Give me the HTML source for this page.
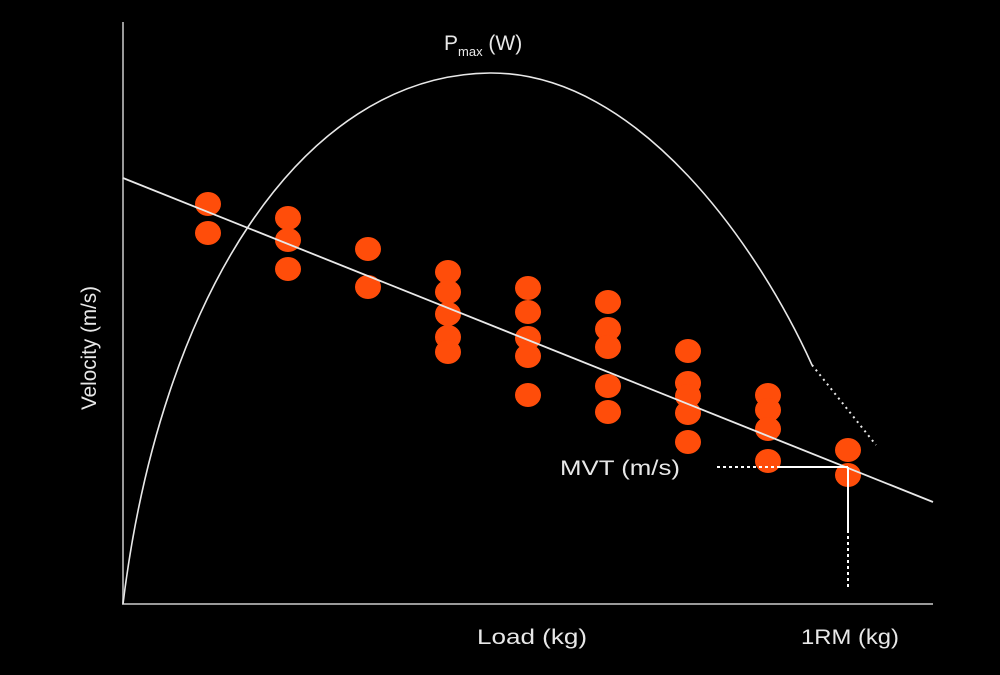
<!DOCTYPE html>
<html><head><style>html,body{margin:0;padding:0;background:#000;}svg{display:block}</style></head>
<body>
<svg width="1000" height="675" viewBox="0 0 1000 675" xmlns="http://www.w3.org/2000/svg">
<rect width="1000" height="675" fill="#000"/>
<line x1="123" y1="22" x2="123" y2="605" stroke="#9a9a9a" stroke-width="2"/>
<line x1="122" y1="604" x2="933" y2="604" stroke="#9a9a9a" stroke-width="2"/>
<g fill="#ff4d0a">
<ellipse cx="208" cy="204" rx="13" ry="12"/><ellipse cx="208" cy="233" rx="13" ry="12"/>
<ellipse cx="288" cy="218" rx="13" ry="12"/><ellipse cx="288" cy="240" rx="13" ry="12"/><ellipse cx="288" cy="269" rx="13" ry="12"/>
<ellipse cx="368" cy="249" rx="13" ry="12"/><ellipse cx="368" cy="287" rx="13" ry="12"/>
<ellipse cx="448" cy="272" rx="13" ry="12"/><ellipse cx="448" cy="292" rx="13" ry="12"/><ellipse cx="448" cy="314" rx="13" ry="12"/><ellipse cx="448" cy="337" rx="13" ry="12"/><ellipse cx="448" cy="352" rx="13" ry="12"/>
<ellipse cx="528" cy="288" rx="13" ry="12"/><ellipse cx="528" cy="312" rx="13" ry="12"/><ellipse cx="528" cy="338" rx="13" ry="12"/><ellipse cx="528" cy="356" rx="13" ry="12"/><ellipse cx="528" cy="395" rx="13" ry="12"/>
<ellipse cx="608" cy="302" rx="13" ry="12"/><ellipse cx="608" cy="329" rx="13" ry="12"/><ellipse cx="608" cy="347" rx="13" ry="12"/><ellipse cx="608" cy="386" rx="13" ry="12"/><ellipse cx="608" cy="412" rx="13" ry="12"/>
<ellipse cx="688" cy="351" rx="13" ry="12"/><ellipse cx="688" cy="383" rx="13" ry="12"/><ellipse cx="688" cy="396" rx="13" ry="12"/><ellipse cx="688" cy="413" rx="13" ry="12"/><ellipse cx="688" cy="442" rx="13" ry="12"/>
<ellipse cx="768" cy="395" rx="13" ry="12"/><ellipse cx="768" cy="410" rx="13" ry="12"/><ellipse cx="768" cy="429" rx="13" ry="12"/><ellipse cx="768" cy="461" rx="13" ry="12"/>
<ellipse cx="848" cy="450" rx="13" ry="12"/><ellipse cx="848" cy="475" rx="13" ry="12"/>
</g>
<path d="M123,604 C 160,300 300,75 490,73 C 640,72 760,250 812,365" fill="none" stroke="#e8e8e8" stroke-width="1.6"/>
<line x1="812" y1="365" x2="876" y2="445" stroke="#e8e8e8" stroke-width="2" stroke-dasharray="2,4"/>
<line x1="123" y1="178" x2="933" y2="502" stroke="#e8e8e8" stroke-width="1.8"/>
<line x1="717" y1="467" x2="780" y2="467" stroke="#fff" stroke-width="2" stroke-dasharray="3,3"/>
<line x1="780" y1="467" x2="848" y2="467" stroke="#fff" stroke-width="2"/>
<line x1="848" y1="467" x2="848" y2="530" stroke="#fff" stroke-width="2"/>
<line x1="848" y1="530" x2="848" y2="588" stroke="#fff" stroke-width="2" stroke-dasharray="3,3"/>
<g font-family="Liberation Sans, sans-serif" fill="#e8e8e8" font-size="21">
<text x="444" y="50">P<tspan font-size="13" dy="6">max</tspan><tspan dy="-6"> (W)</tspan></text>
<text x="477" y="644" textLength="110" lengthAdjust="spacingAndGlyphs">Load (kg)</text>
<text x="801" y="644" textLength="98" lengthAdjust="spacingAndGlyphs">1RM (kg)</text>
<text x="560" y="475" textLength="120" lengthAdjust="spacingAndGlyphs">MVT (m/s)</text>
<text transform="translate(96,410) rotate(-90)" textLength="124" lengthAdjust="spacingAndGlyphs">Velocity (m/s)</text>
</g>
</svg>
</body></html>
